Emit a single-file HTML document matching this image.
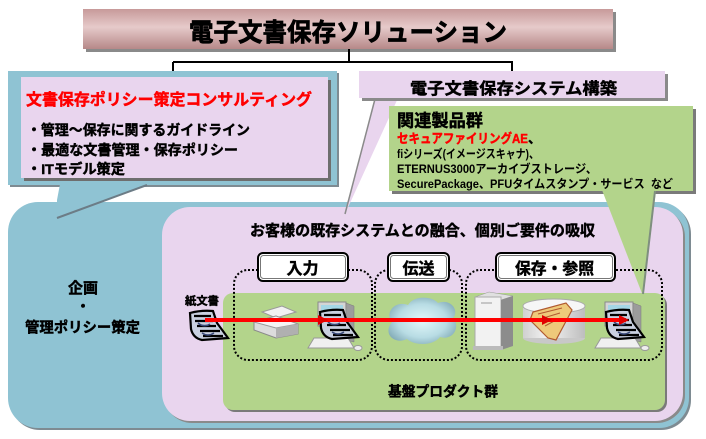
<!DOCTYPE html>
<html lang="ja">
<head>
<meta charset="utf-8">
<style>
  html,body{margin:0;padding:0;background:#fff;}
  body{width:706px;height:439px;overflow:hidden;}
  svg{display:block;}
  text{font-family:"Liberation Sans","Noto Sans CJK JP",sans-serif;font-weight:bold;stroke-width:0.45;}
  text.k{stroke:#000;}
  text.r{stroke:#ff0000;}
</style>
</head>
<body>
<svg width="706" height="439" viewBox="0 0 706 439" xmlns="http://www.w3.org/2000/svg">
  <defs>
    <linearGradient id="tg" x1="0" y1="0" x2="0" y2="1">
      <stop offset="0" stop-color="#c79a9a"/>
      <stop offset="0.45" stop-color="#e6caca"/>
      <stop offset="1" stop-color="#b68888"/>
    </linearGradient>
    <radialGradient id="cg" cx="0.5" cy="0.5" r="0.6">
      <stop offset="0" stop-color="#e2f8fa"/>
      <stop offset="0.6" stop-color="#b8dce4"/>
      <stop offset="1" stop-color="#7fa8b4"/>
    </radialGradient>
    <linearGradient id="cyl" x1="0" y1="0" x2="1" y2="0">
      <stop offset="0" stop-color="#d0d0d0"/>
      <stop offset="0.4" stop-color="#f4f4f4"/>
      <stop offset="1" stop-color="#bdbdbd"/>
    </linearGradient>
    <g id="doc">
      <path d="M2,3 Q13,0 25,1 L29,13 Q35,21 40,28 L14,30 Q5,28 3,19 Z" fill="#c9d0e0" stroke="#000" stroke-width="2.2"/>
      <path d="M6,6 H23 M7,11 H25 M9,16 H28 M12,21 H32 M15,26 H35" stroke="#000" stroke-width="2.2"/>
      <path d="M10,13 Q16,18 22,14 M14,23 Q20,27 26,23" stroke="#3a4a7a" stroke-width="1.5" fill="none"/>
    </g>
    <g id="pc">
      <rect x="0" y="0" width="28" height="24" fill="#d4d4d4" stroke="#8a8a8a"/>
      <rect x="3" y="3" width="22" height="16" fill="#a4d6e6"/>
      <polygon points="28,1 36,4 36,40 28,38" fill="#9c9c9c" stroke="#7a7a7a" stroke-width="0.5"/>
      <polygon points="-4,36 30,36 36,46 -10,46" fill="#f0f0f0" stroke="#999"/>
      <ellipse cx="40" cy="46" rx="4" ry="2.5" fill="#eee" stroke="#999"/>
    </g>
  </defs>

  <!-- Title -->
  <rect x="86" y="12" width="530" height="40" fill="#8a8a8a"/>
  <rect x="83" y="9" width="530" height="40" fill="url(#tg)"/>
  <text class="k" x="189" y="41" font-size="25" textLength="318" lengthAdjust="spacingAndGlyphs" fill="#000" style="stroke-width:0.7">電子文書保存ソリューション</text>

  <!-- connectors -->
  <path d="M349,49 V62 M173,62 H513 M173,62 V77 M512,62 V71" stroke="#000" stroke-width="2" fill="none"/>

  <!-- big blue rounded rect -->
  <rect x="10" y="204" width="681" height="226" rx="30" fill="#7e8b92"/>
  <rect x="8" y="202" width="681" height="226" rx="30" fill="#8fc3d3"/>

  <!-- left callout -->
  <rect x="10" y="73" width="329" height="114" fill="#7e8b92"/>
  <rect x="8" y="71" width="329" height="114" fill="#8fc3d3"/>
  <polygon points="60,184 148,184 57,218 57,200" fill="#8fc3d3"/>
  <line x1="147" y1="185" x2="57" y2="218" stroke="#6c7c86" stroke-width="2"/>
  <rect x="24" y="80" width="307" height="101" fill="#6e6e6e"/>
  <rect x="21" y="77" width="307" height="101" fill="#e9d5ee"/>
  <text class="r" x="26" y="105" font-size="16" textLength="286" lengthAdjust="spacingAndGlyphs" fill="#ff0000">文書保存ポリシー策定コンサルティング</text>
  <text class="k" x="27" y="135" font-size="14" textLength="223" lengthAdjust="spacingAndGlyphs" fill="#000">・管理～保存に関するガイドライン</text>
  <text class="k" x="27" y="155" font-size="14" textLength="211" lengthAdjust="spacingAndGlyphs" fill="#000">・最適な文書管理・保存ポリシー</text>
  <text class="k" x="27" y="174" font-size="14" textLength="98" lengthAdjust="spacingAndGlyphs" fill="#000">・ITモデル策定</text>

  <!-- pink inner rounded rect -->
  <rect x="164" y="209" width="521" height="214" rx="28" fill="#8a8a8a"/>
  <rect x="162" y="207" width="521" height="214" rx="28" fill="#e9d5ee"/>

  <!-- pink tail from right box -->
  <polygon points="375,98 398,98 345,214" fill="#e9d5ee"/>
  <line x1="375" y1="99" x2="345" y2="214" stroke="#8a8a8a" stroke-width="1.5"/>

  <!-- right box -->
  <rect x="362" y="74" width="306" height="27" fill="#8a8a8a"/>
  <rect x="359" y="71" width="306" height="27" fill="#e9d5ee"/>
  <text class="k" x="410" y="94" font-size="16" textLength="207" lengthAdjust="spacingAndGlyphs" fill="#000">電子文書保存システム構築</text>

  <!-- green box -->
  <rect x="392" y="109" width="304" height="85" fill="#7a7a7a"/>
  <rect x="389" y="106" width="304" height="85" fill="#b3d48b"/>
  <text class="k" x="397" y="126.5" font-size="17" textLength="86" lengthAdjust="spacingAndGlyphs" fill="#000">関連製品群</text>
  <text class="r" x="397" y="143" font-size="13" textLength="131" lengthAdjust="spacingAndGlyphs" fill="#ff0000">セキュアファイリングAE</text>
  <text class="k" x="528" y="143" font-size="13" fill="#000">、</text>
  <text x="397" y="158" font-size="12" textLength="142" lengthAdjust="spacingAndGlyphs" fill="#000">fiシリーズ(イメージスキャナ)、</text>
  <text x="397" y="173" font-size="12" textLength="200" lengthAdjust="spacingAndGlyphs" fill="#000">ETERNUS3000アーカイブストレージ、</text>
  <text x="397" y="188" font-size="12" textLength="276" lengthAdjust="spacingAndGlyphs" fill="#000">SecurePackage、PFUタイムスタンプ・サービス&#160;&#160;など</text>

  <!-- inner texts -->
  <text class="k" x="250" y="235.5" font-size="15" textLength="345" lengthAdjust="spacingAndGlyphs" fill="#000">お客様の既存システムとの融合、個別ご要件の吸収</text>
  <text class="k" x="83" y="293" font-size="15" text-anchor="middle" fill="#000">企画</text>
  <text class="k" x="83" y="311.5" font-size="14" text-anchor="middle" fill="#000">・</text>
  <text class="k" x="25" y="332.5" font-size="14.5" textLength="115" lengthAdjust="spacingAndGlyphs" fill="#000">管理ポリシー策定</text>

  <!-- green base rect -->
  <rect x="225" y="295" width="442" height="117" rx="10" fill="#7a7a7a"/>
  <rect x="223" y="293" width="442" height="117" rx="10" fill="#b3d48b"/>

  <!-- green tail -->
  <polygon points="602,190 656,190 643,296" fill="#b3d48b"/>
  <line x1="655" y1="191" x2="643" y2="294" stroke="#7f8f7f" stroke-width="2"/>

  <text class="k" x="388" y="396.5" font-size="14" textLength="110" lengthAdjust="spacingAndGlyphs" fill="#000">基盤プロダクト群</text>

  <!-- dotted groups -->
  <g fill="none" stroke="#000" stroke-width="2" stroke-dasharray="2,2">
    <rect x="234" y="270" width="138" height="90" rx="14"/>
    <rect x="375" y="270" width="87" height="90" rx="14"/>
    <rect x="466" y="270" width="196" height="90" rx="14"/>
  </g>

  <!-- label boxes -->
  <g>
    <rect x="258" y="253" width="90" height="28" rx="5" fill="#fff" stroke="#000" stroke-width="2"/>
    <rect x="260.5" y="255.5" width="85" height="23" rx="3" fill="none" stroke="#777" stroke-width="1"/>
    <rect x="388" y="253" width="61" height="28" rx="5" fill="#fff" stroke="#000" stroke-width="2"/>
    <rect x="390.5" y="255.5" width="56" height="23" rx="3" fill="none" stroke="#777" stroke-width="1"/>
    <rect x="496" y="253" width="119" height="28" rx="5" fill="#fff" stroke="#000" stroke-width="2"/>
    <rect x="498.5" y="255.5" width="114" height="23" rx="3" fill="none" stroke="#777" stroke-width="1"/>
  </g>
  <text class="k" x="302.5" y="274" font-size="16" text-anchor="middle" fill="#000">入力</text>
  <text class="k" x="418.5" y="274" font-size="16" text-anchor="middle" fill="#000">伝送</text>
  <text class="k" x="515" y="274" font-size="16" textLength="79" lengthAdjust="spacingAndGlyphs" fill="#000">保存・参照</text>

  <text class="k" x="185" y="304.5" font-size="11" textLength="34" lengthAdjust="spacingAndGlyphs" fill="#000">紙文書</text>

  <!-- scanner -->
  <g>
    <polygon points="262,312 282,306 296,312 276,318" fill="#f2f2f2" stroke="#9a9a9a"/>
    <polygon points="254,322 276,316 298,324 298,334 276,338 254,330" fill="#dcdcdc" stroke="#8a8a8a"/>
    <polygon points="254,322 276,328 298,324 276,316" fill="#f4f4f4" stroke="#999"/>
    <polygon points="276,328 298,324 298,334 276,338" fill="#b0b0b0"/>
  </g>

  <!-- computers -->
  <use href="#pc" x="318" y="302"/>
  <use href="#pc" x="605" y="302"/>

  <!-- server -->
  <g>
    <polygon points="475,297 489,292 513,296 501,300" fill="#e0e0e0" stroke="#999" stroke-width="0.5"/>
    <rect x="475" y="297" width="26" height="50" fill="#f2f2f2" stroke="#aaa"/>
    <polygon points="501,300 513,296 513,346 501,350" fill="#8c8c8c"/>
    <line x1="481" y1="303" x2="492" y2="303" stroke="#999"/>
    <rect x="473" y="346" width="30" height="4" fill="#bbb"/>
  </g>

  <!-- cylinder -->
  <g>
    <ellipse cx="554" cy="338" rx="31" ry="6" fill="#c8c8c8"/>
    <rect x="523" y="306" width="62" height="32" fill="url(#cyl)"/>
    <ellipse cx="554" cy="306" rx="31" ry="7" fill="#f6f6f6" stroke="#aaa"/>
    <polygon points="533,312 566,303 572,310 556,340 548,338 530,320" fill="#eec97a" stroke="#b05a30" stroke-width="1.2"/>
    <path d="M538,314 L562,308 M540,319 L560,313 M545,326 L556,320" stroke="#b05a30" stroke-width="1"/>
  </g>

  <!-- cloud -->
  <path d="M392,322 C384,312 396,300 408,305 C414,295 432,296 438,303 C450,298 460,310 453,318 C461,327 453,341 440,337 C432,347 413,345 407,339 C395,345 382,334 392,322 Z" fill="url(#cg)"/>

  <!-- doc icons -->
  <use href="#doc" x="188" y="310"/>
  <use href="#doc" x="318" y="309"/>
  <use href="#doc" x="604" y="309"/>

  <!-- red flow line -->
  <line x1="205" y1="320" x2="626" y2="320" stroke="#ff0000" stroke-width="4"/>
  <polygon points="318,315 328,320 318,325" fill="#e00000"/>
  <polygon points="542,315 552,320 542,325" fill="#e00000"/>
  <polygon points="619,315 629,320 619,325" fill="#e00000"/>
</svg>
</body>
</html>
